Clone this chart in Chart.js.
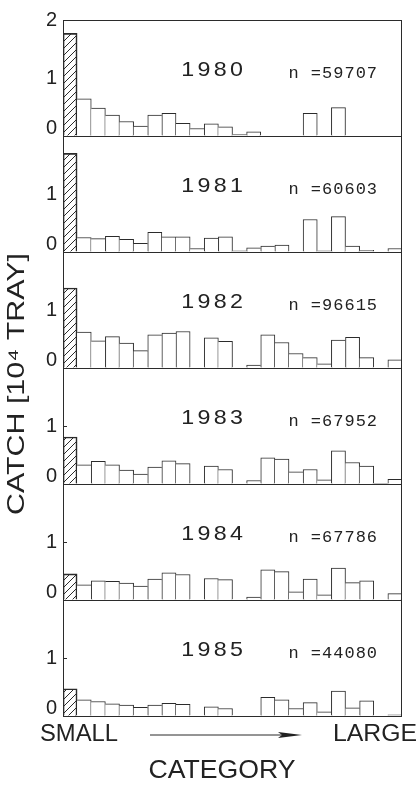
<!DOCTYPE html>
<html>
<head>
<meta charset="utf-8">
<script src="https://cdn.jsdelivr.net/npm/chart.js@4.4.0/dist/chart.umd.min.js"></script>
<style>
  html, body { margin: 0; padding: 0; background: #fff; }
</style>
</head>
<body>
<canvas id="catch-chart" width="418" height="785"></canvas>
<script>
// size categories, small -> large
const categories = ["1", "2", "3", "4", "5", "6", "7", "8", "9", "10", "11", "12",
  "13", "14", "15", "16", "17", "18", "19", "20", "21", "22", "23", "24"];
const years = ["1980", "1981", "1982", "1983", "1984", "1985"];
const sampleSizes = ["59707", "60603", "96615", "67952", "67786", "44080"];
const yTicks = [0, 1, 2];

// catch per category, 10^4 trays (first category is the hatched one)
const catch1980 = [1.77, 0.64, 0.48, 0.36, 0.25, 0.17, 0.36, 0.39, 0.22, 0.13, 0.21, 0.16,
  0.03, 0.07, 0, 0, 0, 0.39, 0, 0.49, 0, 0, 0, 0];
const catch1981 = [1.70, 0.25, 0.23, 0.27, 0.22, 0.15, 0.34, 0.26, 0.26, 0.06, 0.24, 0.26,
  0.02, 0.07, 0.10, 0.12, 0, 0.56, 0.02, 0.61, 0.10, 0.03, 0, 0.06];
const catch1982 = [1.38, 0.62, 0.47, 0.54, 0.43, 0.30, 0.57, 0.60, 0.63, 0, 0.52, 0.46,
  0, 0.05, 0.57, 0.44, 0.25, 0.18, 0.07, 0.48, 0.53, 0.18, 0, 0.14];
const catch1983 = [0.81, 0.33, 0.39, 0.33, 0.24, 0.17, 0.29, 0.40, 0.35, 0, 0.31, 0.25,
  0, 0.06, 0.45, 0.43, 0.21, 0.25, 0.07, 0.57, 0.37, 0.31, 0.01, 0.08];
const catch1984 = [0.45, 0.26, 0.33, 0.32, 0.29, 0.24, 0.36, 0.47, 0.44, 0, 0.37, 0.35,
  0, 0.05, 0.52, 0.49, 0.14, 0.36, 0.09, 0.55, 0.30, 0.33, 0, 0.11];
const catch1985 = [0.47, 0.28, 0.25, 0.21, 0.19, 0.15, 0.19, 0.22, 0.20, 0, 0.16, 0.13,
  0, 0, 0.32, 0.28, 0.13, 0.23, 0.07, 0.43, 0.14, 0.26, 0, 0.02];

const series = [catch1980, catch1981, catch1982, catch1983, catch1984, catch1985];
const ink = "#2b2b2b";

function makeHatch() {
  const c = document.createElement("canvas");
  c.width = 7;
  c.height = 7;
  const g = c.getContext("2d");
  g.strokeStyle = ink;
  g.lineWidth = 1;
  g.beginPath();
  g.moveTo(0, 7); g.lineTo(7, 0);
  g.moveTo(-1, 1); g.lineTo(1, -1);
  g.moveTo(6, 8); g.lineTo(8, 6);
  g.stroke();
  return g.createPattern(c, "repeat");
}
const hatch = makeHatch();

// only the taller of two neighbours draws the shared edge
function sides(ctx) {
  const d = ctx.dataset.data;
  const i = ctx.dataIndex;
  const v = d[i];
  return {
    top: 1,
    bottom: 0,
    left: i === 0 || d[i - 1] < v ? 1 : 0,
    right: i === d.length - 1 || d[i + 1] <= v ? 1 : 0
  };
}

const datasets = series.map((values, i) => ({
  label: years[i],
  data: values,
  yAxisID: "y" + i,
  grouped: false,
  backgroundColor: values.map((v, j) => (j === 0 ? hatch : "#fff")),
  borderColor: ink,
  borderWidth: sides,
  borderSkipped: false,
  barPercentage: 1,
  categoryPercentage: 1
}));

const scales = {
  x: {
    type: "category",
    labels: categories,
    offset: true,
    grid: { display: false },
    border: { display: false },
    ticks: { display: false },
    afterFit: (s) => { s.height = 69; }
  }
};
// stacked axes: the last one added ends up on top, so add 1985 first
for (let i = years.length - 1; i >= 0; i--) {
  scales["y" + i] = {
    type: "linear",
    position: "left",
    stack: "years",
    stackWeight: 1,
    min: 0,
    max: 2,
    afterBuildTicks: (s) => { s.ticks = yTicks.map((v) => ({ value: v })); },
    ticks: {
      autoSkip: false,
      color: "#222",
      padding: 6,
      font: { family: "Liberation Sans", size: 20, lineHeight: 0.8 },
      callback: (v) => {
        if (v === 2) return i === 0 ? "2" : "";
        if (v === 0) return ["0", ""];
        return String(v);
      }
    },
    grid: {
      drawTicks: false,
      color: (c) => (c.tick && c.tick.value === 1 ? "rgba(0,0,0,0)" : ink)
    },
    border: { display: true, color: ink },
    afterFit: (s) => { s.width = 63; }
  };
}

function stretchText(ctx, text, x, y, width, align) {
  const w = ctx.measureText(text).width;
  ctx.save();
  ctx.translate(x, y);
  ctx.scale(width / w, 1);
  ctx.textAlign = align;
  ctx.fillText(text, 0, 0);
  ctx.restore();
}

const annotations = {
  id: "annotations",
  afterDraw(chart) {
    const { ctx, chartArea: a } = chart;
    ctx.save();
    ctx.strokeStyle = ink;
    ctx.lineWidth = 1;
    ctx.beginPath();
    ctx.moveTo(a.right - 0.5, a.top);
    ctx.lineTo(a.right - 0.5, a.bottom);
    ctx.stroke();

    ctx.fillStyle = "#222";
    ctx.textBaseline = "middle";
    years.forEach((yr, i) => {
      const s = chart.scales["y" + i];
      // short inner tick at 1, only drawn on the lower panels in the original
      if (i >= 3) {
        const y1 = Math.round(s.getPixelForValue(1)) + 0.5;
        ctx.beginPath();
        ctx.moveTo(a.left, y1);
        ctx.lineTo(a.left + 4, y1);
        ctx.stroke();
      }
      ctx.font = '21px "Liberation Sans"';
      ctx.letterSpacing = "3px";
      stretchText(ctx, yr, a.left + a.width * 0.445, s.getPixelForValue(1.14), 65, "center");
      ctx.font = '17px "Liberation Mono"';
      ctx.letterSpacing = "1px";
      ctx.textAlign = "left";
      ctx.fillText("n =" + sampleSizes[i], a.left + a.width * 0.665, s.getPixelForValue(1.08));
    });
    ctx.letterSpacing = "0px";

    // y title
    ctx.font = '24px "Liberation Sans"';
    ctx.save();
    ctx.translate(17, 384);
    ctx.rotate(-Math.PI / 2);
    stretchText(ctx, "CATCH [10\u2074 TRAY]", 0, 0, 262, "center");
    ctx.restore();

    // size direction
    const yDir = a.bottom + 19;
    ctx.font = '23px "Liberation Sans"';
    stretchText(ctx, "SMALL", 40, yDir, 78, "left");
    stretchText(ctx, "LARGE", 417, yDir, 84, "right");
    ctx.beginPath();
    ctx.moveTo(150, yDir);
    ctx.lineTo(285, yDir);
    ctx.stroke();
    ctx.beginPath();
    ctx.moveTo(302, yDir);
    ctx.lineTo(278, yDir - 3);
    ctx.lineTo(282, yDir);
    ctx.lineTo(278, yDir + 3);
    ctx.closePath();
    ctx.fill();

    ctx.font = '25px "Liberation Sans"';
    stretchText(ctx, "CATEGORY", 222, a.bottom + 55, 147, "center");
    ctx.restore();
  }
};

new Chart(document.getElementById("catch-chart"), {
  type: "bar",
  data: { labels: categories, datasets: datasets },
  options: {
    responsive: false,
    animation: false,
    layout: { padding: { top: 20, right: 16, left: 0, bottom: 0 } },
    plugins: { legend: { display: false }, tooltip: { enabled: false } },
    scales: scales
  },
  plugins: [annotations]
});
</script>
</body>
</html>
